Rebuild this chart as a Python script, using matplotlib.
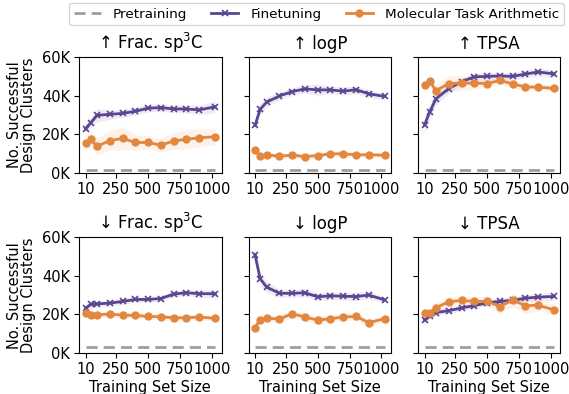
import numpy as np
import matplotlib
matplotlib.use("Agg")
import matplotlib.pyplot as plt
from matplotlib.ticker import FuncFormatter

# training set sizes
sizes = [10, 50, 100, 200, 300, 400, 500, 600, 700, 800, 900, 1024]

titles = ["↑ Frac. sp$^3$C", "↑ logP", "↑ TPSA",
          "↓ Frac. sp$^3$C", "↓ logP", "↓ TPSA"]

# successful design clusters (in thousands)
pretrain = [1.4, 1.4, 1.4, 3.0, 3.0, 3.0]

finetune = [
    [22.9, 25.9, 29.8, 30.3, 30.8, 31.9, 33.5, 33.8, 33.1, 33.1, 32.6, 34.2],
    [24.6, 32.9, 36.6, 39.8, 42.1, 43.5, 43.0, 43.0, 42.3, 43.1, 41.0, 39.6],
    [24.8, 31.5, 38.4, 43.7, 47.2, 49.8, 50.0, 50.2, 50.0, 51.2, 52.3, 51.3],
    [23.2, 25.2, 25.5, 25.9, 26.8, 27.8, 27.8, 28.3, 30.6, 31.3, 30.8, 30.8],
    [51.0, 38.6, 34.3, 31.0, 31.0, 31.3, 29.2, 29.7, 29.5, 29.3, 30.1, 27.6],
    [17.1, 19.0, 21.0, 22.0, 23.4, 24.6, 26.1, 26.8, 27.3, 28.5, 29.0, 29.4],
]
finetune_sd = [
    [2.0, 2.5, 3.5, 2.5, 2.0, 2.0, 2.0, 2.0, 2.0, 2.0, 2.5, 3.0],
    [3.0, 3.0, 2.5, 2.0, 2.0, 2.0, 3.0, 2.0, 2.0, 2.0, 2.0, 1.5],
    [4.5, 4.0, 3.0, 2.5, 2.0, 2.0, 2.0, 2.0, 2.0, 2.0, 2.0, 2.0],
    [2.0, 2.0, 1.5, 1.5, 1.5, 1.5, 1.5, 1.5, 1.5, 1.5, 2.0, 2.0],
    [4.0, 3.0, 3.0, 2.0, 2.0, 2.0, 2.0, 2.0, 2.0, 2.0, 2.0, 1.5],
    [2.0, 1.5, 1.5, 1.5, 1.5, 1.5, 1.5, 1.5, 1.5, 1.5, 2.0, 2.0],
]
mta = [
    [15.5, 17.3, 13.7, 16.7, 17.8, 15.7, 15.7, 14.3, 16.5, 17.4, 18.1, 18.7],
    [12.0, 8.6, 9.3, 8.6, 9.1, 8.4, 8.9, 9.8, 9.8, 9.3, 9.3, 9.1],
    [45.4, 47.4, 42.6, 46.3, 46.5, 46.5, 46.3, 47.9, 46.1, 44.5, 44.4, 43.8],
    [20.8, 19.5, 19.9, 20.2, 19.7, 19.5, 19.0, 18.8, 18.3, 18.3, 18.7, 18.0],
    [13.2, 17.3, 18.1, 17.6, 20.4, 18.7, 17.1, 17.8, 18.7, 19.0, 15.8, 17.8],
    [20.6, 20.6, 23.6, 26.6, 27.3, 26.8, 26.9, 24.1, 27.5, 24.6, 24.8, 22.4],
]
mta_sd = [
    [3.5, 4.5, 4.5, 5.0, 6.0, 4.0, 3.5, 3.5, 4.5, 5.0, 4.5, 4.5],
    [1.5, 1.5, 1.5, 1.5, 1.5, 1.5, 1.5, 1.5, 1.5, 1.5, 1.5, 1.5],
    [2.5, 2.5, 3.0, 4.0, 4.0, 3.0, 2.0, 2.0, 2.0, 2.0, 1.5, 1.5],
    [1.5, 1.5, 1.5, 1.5, 1.5, 1.5, 1.5, 1.5, 1.5, 1.5, 1.5, 1.5],
    [1.5, 2.0, 2.0, 2.0, 2.0, 2.0, 2.5, 2.0, 2.0, 2.0, 2.0, 2.0],
    [2.0, 2.0, 2.5, 2.5, 2.5, 2.5, 2.5, 3.5, 3.5, 4.0, 3.0, 3.0],
]

purple = "#5b4593"
orange = "#e3873f"
grey = "#9e9e9e"

plt.rcParams["font.family"] = "DejaVu Sans"
fig, axes = plt.subplots(2, 3, figsize=(5.69, 3.94), dpi=100, sharex=True)
fig.subplots_adjust(left=0.139, right=0.985, top=0.855, bottom=0.104,
                    wspace=0.19, hspace=0.56)

x = np.array(sizes)
kfmt = FuncFormatter(lambda v, p: "%dK" % round(v / 1000))

for i, ax in enumerate(axes.flat):
    ft = np.array(finetune[i]) * 1000
    ftsd = np.array(finetune_sd[i]) * 1000
    mt = np.array(mta[i]) * 1000
    mtsd = np.array(mta_sd[i]) * 1000

    ax.plot(x, np.full(len(x), pretrain[i] * 1000), "--", color=grey,
            lw=2, dashes=(4, 2.2), label="Pretraining")
    ax.fill_between(x, ft - ftsd, ft + ftsd, color=purple, alpha=0.1, lw=0)
    ax.plot(x, ft, "-x", color=purple, lw=2, ms=5, mew=1.2,
            label="Finetuning")
    ax.fill_between(x, mt - mtsd, mt + mtsd, color=orange, alpha=0.1, lw=0)
    ax.plot(x, mt, "-o", color=orange, lw=2, ms=5,
            label="Molecular Task Arithmetic")

    ax.set_ylim(0, 60000)
    ax.set_yticks([0, 20000, 40000, 60000])
    ax.yaxis.set_major_formatter(kfmt)
    ax.set_xticks([10, 250, 500, 750, 1000])
    ax.tick_params(labelsize=10.5, labelbottom=True, pad=3)
    ax.set_title(titles[i], fontsize=12, pad=6)
    if i % 3 == 0:
        ax.set_ylabel("No. Successful\nDesign Clusters", fontsize=10.5,
                      linespacing=0.95)
    else:
        ax.set_yticklabels([])
    if i >= 3:
        ax.set_xlabel("Training Set Size", fontsize=10.5, labelpad=2)

handles, labels = axes[0, 0].get_legend_handles_labels()
fig.legend(handles, labels, loc="upper center", ncol=3, fontsize=9.7,
           bbox_to_anchor=(0.556, 1.01), handlelength=2.0, handletextpad=0.9,
           columnspacing=1.8, borderpad=0.35)

fig.savefig("out.png", dpi=100)
